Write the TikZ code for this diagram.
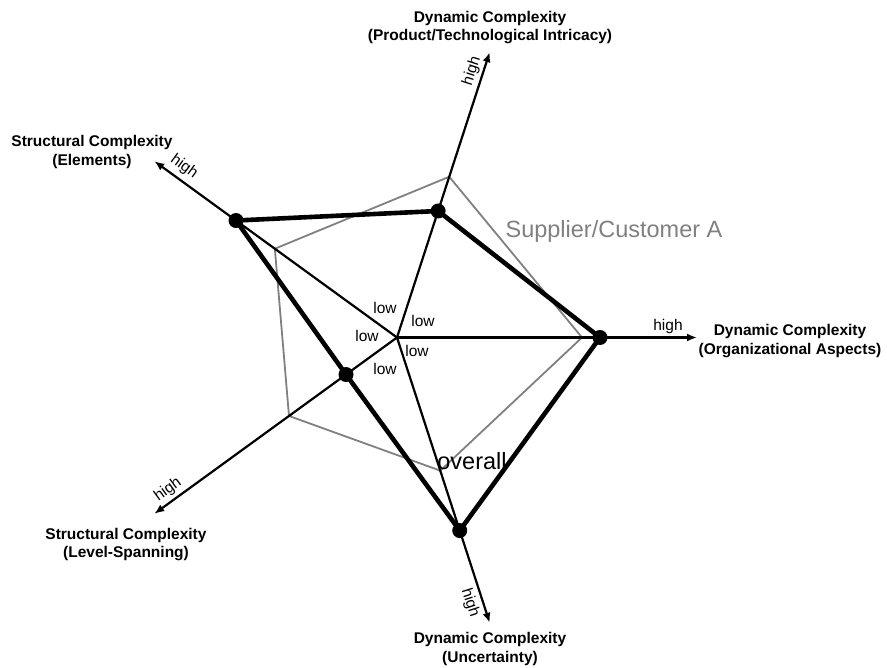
\documentclass[tikz,border=0pt]{standalone}
\usepackage{fontspec}
\setmainfont{Liberation Sans}
\usetikzlibrary{arrows.meta,calc}
\begin{document}
\begin{tikzpicture}[x=1pt,y=1pt,
  axisline/.style={line width=2.2pt,-{Latex[length=10pt,width=8pt]}},
  graypoly/.style={draw=black!50,line width=1.8pt,line join=miter},
  blackpoly/.style={draw=black,line width=4.6pt,line join=round},
  dot/.style={circle,fill=black,inner sep=0pt,minimum size=15pt},
  title/.style={font=\bfseries\fontsize{15.5}{18.5}\selectfont,align=center,inner sep=0pt},
  small/.style={font=\fontsize{15.5}{18}\selectfont,inner sep=0pt},
  big/.style={font=\fontsize{23.5}{27}\selectfont,inner sep=0pt}]
\useasboundingbox (0,0) rectangle (887,668);
\coordinate (O) at (397,330.5);
\foreach \a/\n in {0/r,72/u,144/ul,216/dl,288/d}
  \coordinate (T\n) at ($(O)+(\a:300)$);
% gray polygon
\coordinate (Gr) at ($(O)+(0:185)$);
\coordinate (Gu) at ($(O)+(72:169)$);
\coordinate (Gul) at ($(O)+(144:151)$);
\coordinate (Gdl) at ($(O)+(216:133.5)$);
\coordinate (Gd) at ($(O)+(288:140)$);
\draw[graypoly] (Gr) -- (Gu) -- (Gul) -- (Gdl) -- (Gd) -- cycle;
% axes
\foreach \n in {r,u,ul,dl,d}
  \draw[axisline] (O) -- (T\n);
% black polygon
\coordinate (Br) at ($(O)+(0:203)$);
\coordinate (Bu) at ($(O)+(72:133)$);
\coordinate (Bul) at ($(O)+(144:199)$);
\coordinate (Bdl) at ($(O)+(216:63)$);
\coordinate (Bd) at ($(O)+(288:203)$);
\draw[blackpoly] (Br) -- (Bu) -- (Bul) -- (Bdl) -- (Bd) -- cycle;
\foreach \n in {r,u,ul,dl,d}
  \node[dot] (D\n) at (B\n) {};
% titles
\node[title] (tu) at (490,640.5) {Dynamic Complexity\\(Product/Technological Intricacy)};
\node[title] (tul) at (92,516) {Structural Complexity\\(Elements)};
\node[title] (tr) at (790,327) {Dynamic Complexity\\(Organizational Aspects)};
\node[title] (tdl) at (126,123.5) {Structural Complexity\\(Level-Spanning)};
\node[title] (td) at (490,19) {Dynamic Complexity\\(Uncertainty)};
% high labels
\node[small,rotate=72] (hu) at (472,597) {high};
\node[small,rotate=-36] (hul) at (184,501) {high};
\node[small] (hr) at (668,341) {high};
\node[small,rotate=36] (hdl) at (168,178) {high};
\node[small,rotate=-72] (hd) at (470,65) {high};
% low labels
\node[small] (l1) at (385,360) {low};
\node[small] (l2) at (423,347) {low};
\node[small] (l3) at (367,332) {low};
\node[small] (l4) at (417,317) {low};
\node[small] (l5) at (385,299) {low};
% series labels
\node[big,text=black!50] (sup) at (614,437) {Supplier/Customer A};
\node[big] (ov) at (472,207) {overall};
\end{tikzpicture}
\end{document}
